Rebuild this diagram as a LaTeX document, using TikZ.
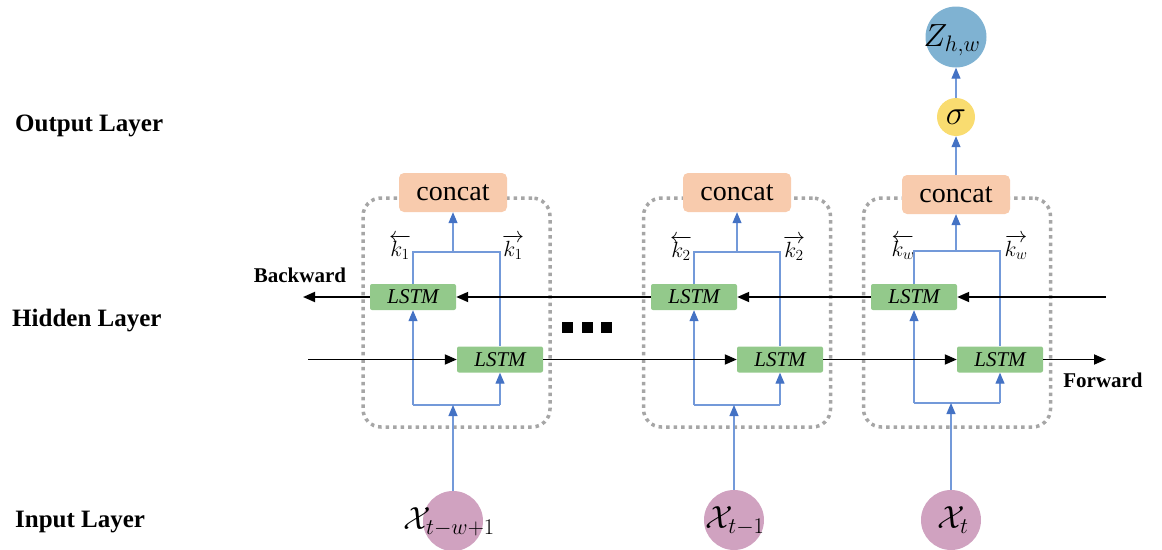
\RequirePackage{fix-cm}
\documentclass[tikz,border=0pt]{standalone}
\usepackage{fontspec}
\setmainfont{Liberation Serif}
\usetikzlibrary{arrows.meta}

\definecolor{peach}{HTML}{F8CBAD}
\definecolor{lstmgreen}{HTML}{93C98B}
\definecolor{linkblue}{HTML}{7399D9}
\definecolor{headblue}{HTML}{4472C4}
\definecolor{dotgray}{HTML}{A6A6A6}
\definecolor{zblue}{HTML}{7FB2D2}
\definecolor{xpink}{HTML}{D0A2C0}
\definecolor{sigyellow}{HTML}{F9DC70}

\tikzset{
  lstmbox/.style={fill=lstmgreen, rounded corners=2pt, minimum width=86pt,
    minimum height=26pt, inner sep=0pt, font=\fontsize{21}{24}\selectfont\itshape},
  concatbox/.style={fill=peach, rounded corners=5pt, minimum width=108pt,
    minimum height=39pt, inner sep=0pt, font=\fontsize{28}{32}\selectfont},
  blockframe/.style={draw=dotgray, line width=3.5pt, dash pattern=on 3.5pt off 4pt,
    rounded corners=18pt, minimum width=187pt, minimum height=229pt, inner sep=0pt},
  link/.style={draw=linkblue, line width=1.1pt},
  uparrow/.style={link, -{Triangle[length=11pt,width=9pt,color=headblue]}},
  flow/.style={draw=black, line width=1.8pt, -{Triangle[length=12pt,width=10pt]}},
  layerlabel/.style={anchor=west, inner sep=0pt, font=\fontsize{25}{29}\selectfont\bfseries},
  dirlabel/.style={inner sep=0pt, font=\fontsize{21}{24}\selectfont\bfseries},
  klabel/.style={inner sep=0pt, font=\fontsize{22}{26}\selectfont},
  inputnode/.style={circle, fill=xpink, minimum size=60pt, inner sep=0pt},
  mathtext/.style={inner sep=0pt, font=\fontsize{32}{38}\selectfont},
  dotsq/.style={fill=black, minimum size=11pt, inner sep=0pt}
}

\begin{document}
\begin{tikzpicture}[x=1pt,y=-1pt]
\useasboundingbox (0,0) rectangle (1162,549);

% layer names
\node[layerlabel] (lout) at (15,126) {Output Layer};
\node[layerlabel] (lhid) at (12,321) {Hidden Layer};
\node[layerlabel] (lin)  at (15,522) {Input Layer};

% dotted frames of the three bidirectional cells
\node[blockframe] (g1) at (456.5,312.5) {};
\node[blockframe] (g2) at (737,312.5) {};
\node[blockframe] (g3) at (957,312.5) {};

% concat boxes
\node[concatbox] (c1) at (453,192.5) {concat};
\node[concatbox] (c2) at (737,192.5) {concat};
\node[concatbox] (c3) at (956,194.5) {concat};

% LSTM cells: backward (upper) and forward (lower)
\node[lstmbox] (b1) at (413,297) {LSTM};
\node[lstmbox] (b2) at (694,297) {LSTM};
\node[lstmbox] (b3) at (914,297) {LSTM};
\node[lstmbox] (f1) at (500,359.5) {LSTM};
\node[lstmbox] (f2) at (780,359.5) {LSTM};
\node[lstmbox] (f3) at (1000,359.5) {LSTM};

% hidden state labels
\node[klabel] (kb1) at (400,247) {$\overleftarrow{k_1}$};
\node[klabel] (kf1) at (513,247) {$\overrightarrow{k_1}$};
\node[klabel] (kb2) at (681,248) {$\overleftarrow{k_2}$};
\node[klabel] (kf2) at (794,248) {$\overrightarrow{k_2}$};
\node[klabel] (kb3) at (903,247) {$\overleftarrow{k_w}$};
\node[klabel] (kf3) at (1016,247) {$\overrightarrow{k_w}$};

% inputs
\node[inputnode] (x1) at (453,521) {};
\node[inputnode] (x2) at (734,520) {};
\node[inputnode] (x3) at (951,520) {};
\node[mathtext] (tx1) at (449,522) {$\mathcal{X}_{t-w+1}$};
\node[mathtext] (tx2) at (735,521) {$\mathcal{X}_{t-1}$};
\node[mathtext] (tx3) at (953,520) {$\mathcal{X}_{t}$};

% output
\node[circle, fill=sigyellow, minimum size=38pt, inner sep=0pt,
      font=\fontsize{34}{38}\selectfont] (sig) at (956,117) {$\sigma$};
\node[circle, fill=zblue, minimum size=61pt, inner sep=0pt] (z) at (956,37) {};
\node[mathtext] (tz) at (952,40) {$Z_{h,w}$};

% ellipsis between cells
\node[dotsq] (d1) at (567.5,327) {};
\node[dotsq] (d2) at (587.5,327) {};
\node[dotsq] (d3) at (606.5,327) {};

% connection points of the blue wiring
\coordinate (t1) at (453,252);
\coordinate (t2) at (737,252);
\coordinate (t3) at (956,251);
\coordinate (u1) at (453,405);
\coordinate (u2) at (737,405);
\coordinate (u3) at (951,403);

% blue wiring inside each cell
\foreach \i in {1,2,3}{
  \draw[link] (b\i.north) -- (b\i.north |- t\i) -- (f\i.north |- t\i) -- (f\i.north);
  \draw[uparrow] (t\i) -- (c\i.south);
  \draw[link] (b\i.south |- u\i) -- (f\i.south |- u\i);
  \draw[uparrow] (b\i.south |- u\i) -- (b\i.south);
  \draw[uparrow] (f\i.south |- u\i) -- (f\i.south);
  \draw[uparrow] (x\i.north) -- (x\i.north |- u\i);
}
\draw[uparrow] (c3.north) -- (sig.south);
\draw[uparrow] (sig.north) -- (z.south);

% backward and forward chains
\coordinate (bstart) at (1106,297);
\coordinate (bend) at (303,297);
\coordinate (fstart) at (308,359.5);
\coordinate (fend) at (1106,359.5);
\draw[flow] (bstart) -- (b3.east);
\draw[flow] (b3.west) -- (b2.east);
\draw[flow] (b2.west) -- (b1.east);
\draw[flow] (b1.west) -- (bend);
\draw[flow] (fstart) -- (f1.west);
\draw[flow] (f1.east) -- (f2.west);
\draw[flow] (f2.east) -- (f3.west);
\draw[flow] (f3.east) -- (fend);

\node[dirlabel] (lback) at (300,275) {Backward};
\node[dirlabel] (lfwd) at (1103,380) {Forward};
\end{tikzpicture}
\end{document}
